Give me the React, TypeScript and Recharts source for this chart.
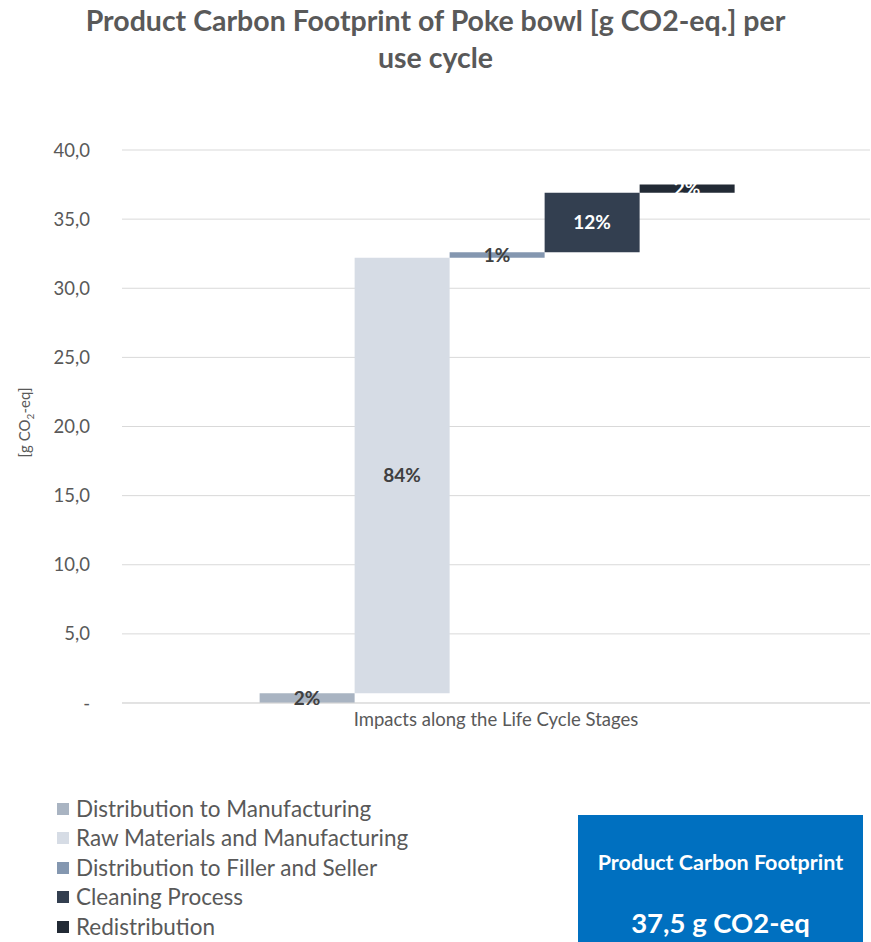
import { BarChart, Bar, XAxis, YAxis, CartesianGrid, LabelList } from "recharts";

const category = "Impacts along the Life Cycle Stages";
const stages = [
  "Distribution to Manufacturing",
  "Raw Materials and Manufacturing",
  "Distribution to Filler and Seller",
  "Cleaning Process",
  "Redistribution",
];
const stageValues = [0.7, 31.5, 0.4, 4.3, 0.6];
const stageShares = ["2%", "84%", "1%", "12%", "2%"];
const stageColors = ["#a9b4c2", "#d6dce5", "#8497b0", "#333f50", "#222a35"];
const labelColors = ["#404040", "#404040", "#404040", "#ffffff", "#ffffff"];
const yTicks = [0, 5, 10, 15, 20, 25, 30, 35, 40];
const totalLabel = "37,5 g CO2-eq";

// waterfall: each stage floats on top of the running total
const row: Record<string, any> = { name: category };
let running = 0;
stages.forEach((_, i) => {
  row["s" + i] = [running, running + stageValues[i]];
  running += stageValues[i];
});
const data = [row];

const font = "Lato, 'Open Sans', sans-serif";
const gray = "#595959";

const fmtTick = (v: number) => (v === 0 ? "-" : v.toFixed(1).replace(".", ","));

function YLabel({ viewBox }: any) {
  const cy = viewBox.y + viewBox.height / 2;
  return (
    <text
      x={0}
      y={0}
      transform={`translate(30, ${cy - 4}) rotate(-90)`}
      textAnchor="middle"
      fontSize={15}
      fill={gray}
      fontFamily={font}
    >
      [g CO<tspan fontSize={10} dy={4}>2</tspan>
      <tspan dy={-4}>-eq]</tspan>
    </text>
  );
}

export default function App() {
  return (
    <div
      style={{
        position: "absolute",
        left: 0,
        top: 0,
        width: 871,
        height: 942,
        background: "#fff",
        fontFamily: font,
        overflow: "hidden",
      }}
    >
      <div
        style={{
          position: "absolute",
          top: 2,
          left: 0,
          width: 871,
          textAlign: "center",
          fontSize: 28.5,
          fontWeight: 700,
          lineHeight: "37px",
          color: gray,
        }}
      >
        Product Carbon Footprint of Poke bowl [g CO2-eq.] per
        <br />
        use cycle
      </div>

      <div style={{ position: "absolute", left: 0, top: 0 }}>
        <BarChart
          width={871}
          height={942}
          data={data}
          margin={{ top: 150, right: 1, bottom: 209, left: 42 }}
          barGap={0}
          barCategoryGap="18.4%"
        >
          <CartesianGrid vertical={false} stroke="#d9d9d9" />
          <XAxis
            dataKey="name"
            axisLine={{ stroke: "#d9d9d9" }}
            tickLine={false}
            height={30}
            tick={{ fontSize: 18.5, fill: gray, fontFamily: font }}
            tickMargin={4}
          />
          <YAxis
            domain={[0, 40]}
            ticks={yTicks}
            tickFormatter={fmtTick}
            axisLine={false}
            tickLine={false}
            tickSize={0}
            tickMargin={32}
            width={80}
            tick={{ fontSize: 18.5, fill: gray, fontFamily: font }}
            label={<YLabel />}
          />
          {stages.map((s, i) => (
            <Bar
              key={s}
              dataKey={"s" + i}
              name={s}
              fill={stageColors[i]}
              isAnimationActive={false}
            >
              <LabelList
                dataKey={"s" + i}
                position="center"
                formatter={() => stageShares[i]}
                fill={labelColors[i]}
                fontSize={19}
                fontWeight={700}
                fontFamily={font}
              />
            </Bar>
          ))}
        </BarChart>
      </div>

      <div style={{ position: "absolute", left: 57, top: 794 }}>
        {stages.map((s, i) => (
          <div
            key={s}
            style={{
              display: "flex",
              alignItems: "center",
              height: 29.5,
              fontSize: 22.5,
              lineHeight: "26px",
              color: gray,
            }}
          >
            <span
              style={{
                display: "inline-block",
                width: 12,
                height: 12,
                background: stageColors[i],
                marginRight: 7,
              }}
            />
            {s}
          </div>
        ))}
      </div>

      <div
        style={{
          position: "absolute",
          left: 578,
          top: 815,
          width: 285,
          height: 140,
          background: "#0070c0",
          color: "#fff",
          fontWeight: 700,
          textAlign: "center",
        }}
      >
        <div style={{ marginTop: 33, fontSize: 21.5, lineHeight: "28px" }}>Product Carbon Footprint</div>
        <div style={{ marginTop: 29, fontSize: 27.5, lineHeight: "36px" }}>{totalLabel}</div>
      </div>
    </div>
  );
}
